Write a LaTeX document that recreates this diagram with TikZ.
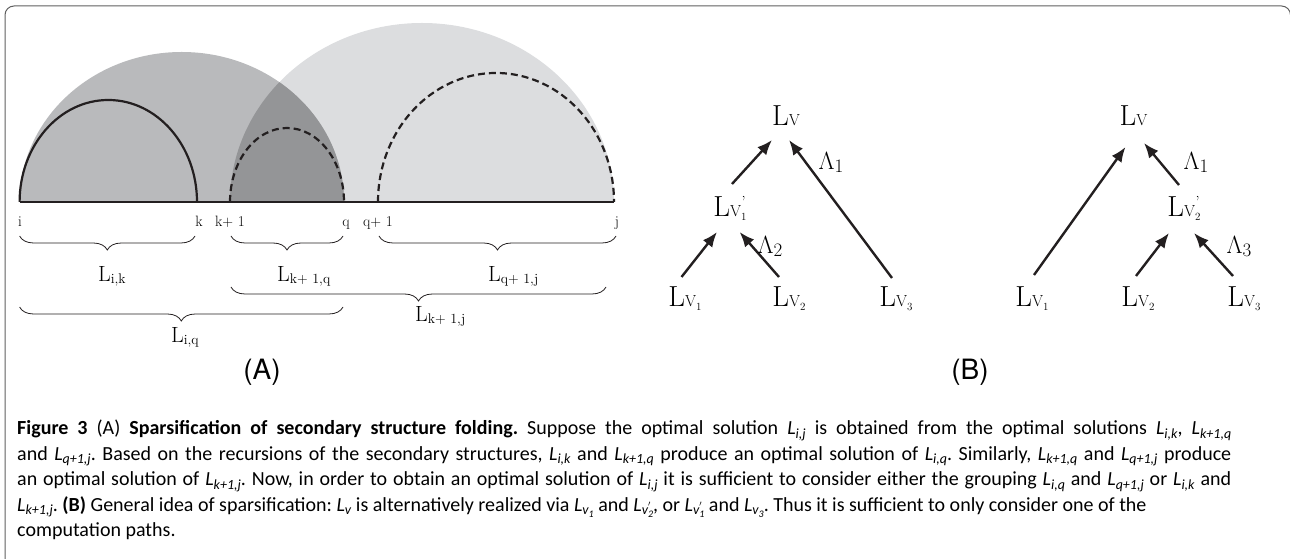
\documentclass[tikz,border=0pt]{standalone}
\usepackage{fontspec}
\usepackage{amsmath}
\setsansfont{TeX Gyre Heros}
\newfontfamily\capfont{Carlito}
\usetikzlibrary{arrows.meta,decorations.pathreplacing}
\definecolor{shadeA}{RGB}{185,186,188}
\definecolor{shadeB}{RGB}{220,221,223}
\definecolor{shadeAB}{RGB}{148,149,151}
\definecolor{ink}{RGB}{35,31,32}
\definecolor{framegray}{RGB}{95,95,95}
% diagram labels
\newcommand{\LV}[1]{L{\fontsize{16}{16}\selectfont V\raisebox{-3.5pt}{\fontsize{11}{11}\selectfont #1}}}
\newcommand{\LVp}[1]{L{\fontsize{16}{16}\selectfont V\raisebox{-3.5pt}{\fontsize{11}{11}\selectfont #1}\llap{\raisebox{9pt}{\fontsize{16}{16}\selectfont '\kern1pt}}}}
\newcommand{\Ls}[1]{L\raisebox{-2pt}{\fontsize{14}{14}\selectfont #1}}
\newcommand{\Lam}[1]{$\Lambda$\raisebox{-3pt}{\fontsize{19}{19}\selectfont #1}}
% caption helpers
\newcommand{\Lc}[1]{\textit{L}\raisebox{-3.5pt}{\fontsize{14}{14}\selectfont\textit{#1}}}
\newcommand{\vs}[1]{v\raisebox{-2.5pt}{\fontsize{10}{10}\selectfont #1}}
\newcommand{\vp}[1]{v\rlap{\raisebox{4pt}{\fontsize{11}{11}\selectfont$'$}}\raisebox{-2.5pt}{\fontsize{10}{10}\selectfont #1}}
\newcommand{\fullline}[1]{\makebox[1214pt][s]{#1}}
\frenchspacing

\begin{document}
\begin{tikzpicture}[x=1pt,y=1pt,
    tree/.style={inner sep=0pt,anchor=base,font=\fontsize{29}{29}\selectfont},
    lab/.style={inner sep=0pt,anchor=base,font=\fontsize{24}{24}\selectfont},
    tick/.style={inner sep=0pt,anchor=base,font=\fontsize{15}{15}\selectfont},
    seg/.style={inner sep=0pt,anchor=base west,font=\fontsize{22}{22}\selectfont},
    arr/.style={-{Latex[length=15pt,width=12pt]},line width=2.4pt,draw=ink},
    brc/.style={decorate,decoration={brace,mirror,amplitude=14pt},line width=0.8pt,draw=ink},
    panel/.style={inner sep=0pt,font=\sffamily\fontsize{28}{28}\selectfont}]
  \useasboundingbox (0,0) rectangle (1290,559);
  %% frame
  \draw[framegray,line width=1pt,rounded corners=9pt] (5,-5) -- (5,553) -- (1290.5,553) -- (1290.5,-5);

  %% (A) positions on the backbone
  \coordinate (pi)  at (19.6,357);
  \coordinate (pk)  at (197,357);
  \coordinate (pk1) at (230,357);
  \coordinate (pq)  at (344,357);
  \coordinate (pq1) at (378,357);
  \coordinate (pj)  at (614,357);
  %% shaded regions
  \fill[shadeB] (pk1) arc[start angle=180,end angle=0,x radius=192,y radius=179] -- cycle;
  \fill[shadeA] (pi) arc[start angle=180,end angle=0,x radius=162.2,y radius=150] -- cycle;
  \begin{scope}
    \clip (pi) arc[start angle=180,end angle=0,x radius=162.2,y radius=150] -- cycle;
    \fill[shadeAB] (pk1) arc[start angle=180,end angle=0,x radius=192,y radius=179] -- cycle;
  \end{scope}
  %% arcs
  \draw[ink,line width=2.2pt] (pi) arc[start angle=180,end angle=0,x radius=88.7,y radius=102];
  \draw[ink,line width=2.2pt,dash pattern=on 7pt off 4pt] (pk1) arc[start angle=180,end angle=0,x radius=57,y radius=74];
  \draw[ink,line width=2.2pt,dash pattern=on 7pt off 4pt] (pq1) arc[start angle=180,end angle=0,x radius=118,y radius=129];
  \draw[ink,line width=2.6pt] (pi) -- (pj);
  %% position labels
  \node[tick] (ti)  at (20,332)  {i};
  \node[tick] (tk)  at (199,332) {k};
  \node[tick,anchor=base west] (tk1) at (215,332) {k+ 1};
  \node[tick] (tq)  at (346,332) {q};
  \node[tick,anchor=base west] (tq1) at (363,332) {q+ 1};
  \node[tick] (tj)  at (617,332) {j};
  %% braces
  \draw[brc] (19.6,323) -- (195,323);
  \draw[brc] (231,323) -- (343,323);
  \draw[brc] (379,323) -- (616,323);
  \draw[brc] (231,272) -- (606,272);
  \draw[brc] (19.6,252) -- (343,252);
  \node[seg] (lik)  at (98,277)  {\Ls{i,k}};
  \node[seg] (lkq)  at (277,277) {\Ls{k+ 1,q}};
  \node[seg] (lqj)  at (488,277) {\Ls{q+ 1,j}};
  \node[seg] (lkj)  at (415,237) {\Ls{k+ 1,j}};
  \node[seg] (liq)  at (171,216) {\Ls{i,q}};
  \node[panel] (pa) at (262,187) {(A)};

  %% (B) left tree
  \node[tree] (lv)  at (786,433) {\LV{}};
  \node[tree] (lv1p) at (730,342) {\LVp{1}};
  \node[tree] (lv1) at (685,252) {\LV{1}};
  \node[tree] (lv2) at (789,252) {\LV{2}};
  \node[tree] (lv3) at (896,252) {\LV{3}};
  \draw[arr] ([shift={(2,33)}]lv1p.base) -- ([shift={(-14,-14)}]lv.base);
  \draw[arr] ([shift={(-4,29)}]lv3.base) -- ([shift={(3,-14)}]lv.base);
  \draw[arr] ([shift={(-3.5,30)}]lv1.base) -- ([shift={(-13,-15)}]lv1p.base);
  \draw[arr] ([shift={(-10,30)}]lv2.base) -- ([shift={(9.6,-15)}]lv1p.base);
  \node[lab] (la1) at (831,389) {\Lam{1}};
  \node[lab] (la2) at (770,305) {\Lam{2}};

  %% (B) right tree
  \node[tree] (rv)  at (1133.5,433) {\LV{}};
  \node[tree] (rv2p) at (1184,342) {\LVp{2}};
  \node[tree] (rv1) at (1032,252) {\LV{1}};
  \node[tree] (rv2) at (1138,252) {\LV{2}};
  \node[tree] (rv3) at (1244,252) {\LV{3}};
  \draw[arr] ([shift={(2,32)}]rv1.base) -- ([shift={(-8,-21)}]rv.base);
  \draw[arr] ([shift={(-5,32)}]rv2p.base) -- ([shift={(10.5,-17)}]rv.base);
  \draw[arr] ([shift={(-2,31)}]rv2.base) -- ([shift={(-15,-16)}]rv2p.base);
  \draw[arr] ([shift={(-11,31)}]rv3.base) -- ([shift={(10,-16)}]rv2p.base);
  \node[lab] (ra1) at (1196,389) {\Lam{1}};
  \node[lab] (ra3) at (1239,305) {\Lam{3}};
  \node[panel] (pb) at (970,187) {(B)};

  %% caption
  \node[anchor=north west,inner sep=0pt,align=left,
        font=\capfont\fontsize{20}{25.5}\selectfont] (cap) at (17,139) {%
    \fullline{{\bfseries Figure 3} (A) {\bfseries Sparsification of secondary structure folding.} Suppose the optimal solution \Lc{i,j} is obtained from the optimal solutions \Lc{i,k}, \Lc{k+1,q}}\\
    \fullline{and \Lc{q+1,j}. Based on the recursions of the secondary structures, \Lc{i,k} and \Lc{k+1,q} produce an optimal solution of \Lc{i,q}. Similarly, \Lc{k+1,q} and \Lc{q+1,j} produce}\\
    \fullline{an optimal solution of \Lc{k+1,j}. Now, in order to obtain an optimal solution of \Lc{i,j} it is sufficient to consider either the grouping \Lc{i,q} and \Lc{q+1,j} or \Lc{i,k} and}\\
    \Lc{k+1,j}. {\bfseries (B)} General idea of sparsification: \Lc{v} is alternatively realized via \Lc{\vs{1}} and \Lc{\vp{2}}, or \Lc{\vp{1}} and \Lc{\vs{3}}. Thus it is sufficient to only consider one of the\\
    computation paths.};
\end{tikzpicture}
\end{document}
